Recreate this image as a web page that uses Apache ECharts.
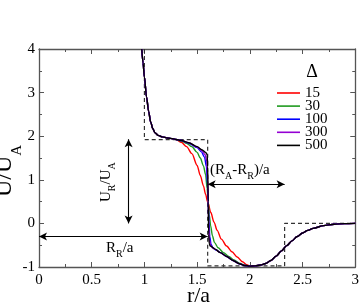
<!DOCTYPE html>
<html><head><meta charset="utf-8">
<script src="https://cdn.jsdelivr.net/npm/echarts@6/dist/echarts.min.js"></script>
<style>html,body{margin:0;padding:0;background:#fff}#c{width:362px;height:303px}</style>
</head><body><div id="c"></div>
<script>
// ---- data ----
const seriesNames = ['15', '30', '100', '300', '500'];
const xTickLabels = ['0', '0.5', '1', '1.5', '2', '2.5', '3'];
const yTickLabels = ['-1', '0', '1', '2', '3', '4'];

// repulsive core, shared by all curves
const repCore = [[0.975,4.0],[0.987,3.68],[1.0,3.36],[1.02,2.9],[1.04,2.57],[1.06,2.32],[1.08,2.17],[1.1,2.08],[1.13,2.02],[1.17,1.985],[1.22,1.96],[1.27,1.94],[1.3,1.925]];
// attractive tail, shared by all curves
const attrTail = [[2.0,-0.98],[2.05,-0.975],[2.1,-0.955],[2.15,-0.92],[2.2,-0.85],[2.25,-0.75],[2.3,-0.63],[2.35,-0.51],[2.4,-0.4],[2.45,-0.3],[2.5,-0.22],[2.55,-0.16],[2.6,-0.115],[2.7,-0.05],[2.8,-0.018],[2.9,-0.005],[3.0,0]];

const mid15 = [[1.35,1.86],[1.4,1.76],[1.45,1.6],[1.5,1.33],[1.53,1.1],[1.56,0.86],[1.58,0.67],[1.6,0.49],[1.63,0.25],[1.66,0.03],[1.69,-0.16],[1.73,-0.36],[1.78,-0.52],[1.83,-0.65],[1.88,-0.77],[1.93,-0.88],[1.97,-0.95]];
const mid30 = [[1.35,1.89],[1.4,1.84],[1.45,1.76],[1.5,1.63],[1.53,1.5],[1.56,1.32],[1.58,1.12],[1.595,0.8],[1.605,0.5],[1.615,0.2],[1.628,-0.05],[1.645,-0.28],[1.665,-0.44],[1.7,-0.56],[1.75,-0.67],[1.8,-0.76],[1.85,-0.84],[1.9,-0.91],[1.95,-0.96]];
const mid100 = [[1.35,1.9],[1.42,1.84],[1.5,1.74],[1.54,1.64],[1.57,1.52],[1.588,1.3],[1.598,0.9],[1.605,0.5],[1.612,0.05],[1.62,-0.3],[1.632,-0.48],[1.65,-0.56],[1.68,-0.61],[1.72,-0.67],[1.78,-0.76],[1.84,-0.85],[1.9,-0.925],[1.95,-0.965]];
const mid300 = [[1.35,1.9],[1.42,1.85],[1.5,1.755],[1.545,1.67],[1.575,1.58],[1.592,1.42],[1.6,1.0],[1.605,0.5],[1.611,-0.05],[1.617,-0.38],[1.628,-0.5],[1.645,-0.56],[1.67,-0.595],[1.72,-0.67],[1.78,-0.76],[1.84,-0.85],[1.9,-0.925],[1.95,-0.965]];
const mid500 = [[1.35,1.9],[1.42,1.85],[1.5,1.76],[1.545,1.69],[1.58,1.63],[1.595,1.58],[1.6,1.3],[1.605,0.5],[1.61,-0.25],[1.615,-0.47],[1.625,-0.52],[1.67,-0.59],[1.72,-0.67],[1.78,-0.76],[1.84,-0.85],[1.9,-0.925],[1.95,-0.965]];

// square-well reference potential (dashed)
const stepPotential = [[1,4],[1,1.92],[1.6,1.92],[1.6,-0.975],[2.33,-0.975],[2.33,0],[3,0]];

// ---- chart ----
const FONT = '"Liberation Serif", "Times New Roman", serif';
const mids = [mid15, mid30, mid100, mid300, mid500];
const colors = ['#ff0000', '#1f9a1f', '#0000ff', '#9400d3', '#000000'];

const ctx = document.createElement('canvas').getContext('2d');
function richText(parts, x, y, rot) {
  let cx = 0; const children = [];
  parts.forEach(([t, s, dy]) => {
    const f = s + 'px ' + FONT;
    ctx.font = f;
    const w = ctx.measureText(t).width;
    children.push({type: 'text', x: cx, y: dy, style: {text: t, font: f, fill: '#000', textAlign: 'left', verticalAlign: 'middle', textVerticalAlign: 'middle'}});
    cx += w;
  });
  return {type: 'group', x: x, y: y, rotation: rot || 0, children: children, silent: true};
}

const axisCommon = {
  min: 0, max: 3, interval: 0.5,
  axisLine: {show: true, onZero: false, lineStyle: {color: '#555', width: 1.3}},
  axisTick: {show: true, inside: true, length: 5, lineStyle: {color: '#555', width: 1}},
  minorTick: {show: true, splitNumber: 2, length: 3, lineStyle: {color: '#555', width: 1}},
  splitLine: {show: false}
};
const yCommon = Object.assign({}, axisCommon, {min: -1, max: 4, interval: 1});

const series = [{
  type: 'line', name: 'step', data: stepPotential, symbol: 'none', silent: true,
  lineStyle: {color: '#333', width: 1.2, type: [4, 3]}, z: 1,
  markLine: {
    silent: true, symbol: ['arrow', 'arrow'], symbolSize: [6, 8],
    label: {show: false},
    lineStyle: {color: '#000', width: 1.1, type: 'solid'},
    data: [
      [{coord: [0.85, 0]}, {coord: [0.85, 1.93]}],
      [{coord: [0, -0.3]}, {coord: [1.6, -0.3]}],
      [{coord: [1.6, 0.9]}, {coord: [2.33, 0.9]}]
    ],
    animation: false
  }
}];
seriesNames.forEach((n, i) => {
  series.push({
    type: 'line', name: n, data: repCore.concat(mids[i], attrTail),
    symbol: 'none', smooth: 0.3, smoothMonotone: 'x',
    lineStyle: {color: colors[i], width: 1.4}, itemStyle: {color: colors[i]}, z: 2 + i
  });
});

const chart = echarts.init(document.getElementById('c'), null, {renderer: 'canvas'});
chart.setOption({
  animation: false,
  backgroundColor: '#fff',
  grid: {left: 39, right: 4, top: 49, bottom: 36},
  xAxis: [
    Object.assign({}, axisCommon, {type: 'value', position: 'bottom',
      axisLabel: {show: true, margin: 6, color: '#000', fontFamily: FONT, fontSize: 15,
        formatter: v => xTickLabels[Math.round(v / 0.5)]}}),
    Object.assign({}, axisCommon, {type: 'value', position: 'top', axisLabel: {show: false}})
  ],
  yAxis: [
    Object.assign({}, yCommon, {type: 'value', position: 'left',
      axisLabel: {show: true, margin: 4, color: '#000', fontFamily: FONT, fontSize: 15,
        formatter: v => yTickLabels[Math.round(v + 1)]}}),
    Object.assign({}, yCommon, {type: 'value', position: 'right', axisLabel: {show: false}})
  ],
  legend: {
    data: seriesNames, orient: 'vertical', left: 277, top: 85.5, padding: 0,
    icon: 'rect', itemWidth: 23, itemHeight: 1.6, itemGap: -1.9,
    textStyle: {fontFamily: FONT, fontSize: 15, color: '#000', lineHeight: 13},
    selectedMode: false
  },
  series: series,
  graphic: [
    {type: 'text', x: 198.5, y: 296, silent: true, style: {text: 'r/a', font: '22px ' + FONT, fill: '#000', textAlign: 'center', verticalAlign: 'middle', textVerticalAlign: 'middle'}},
    richText([['U/U', 24, 0], ['A', 15, 12]], 5, 197, Math.PI / 2),
    {type: 'text', x: 312, y: 72, silent: true, style: {text: 'Δ', font: '18px ' + FONT, fill: '#000', textAlign: 'center', verticalAlign: 'middle', textVerticalAlign: 'middle'}},
    richText([['R', 15, 0], ['R', 10, 6], ['/a', 15, 0]], 106, 248, 0),
    richText([['(R', 15, 0], ['A', 10, 6], ['-R', 15, 0], ['R', 10, 6], [')/a', 15, 0]], 210, 170, 0),
    richText([['U', 15, 0], ['R', 10, 6], ['/U', 15, 0], ['A', 10, 6]], 106, 202, Math.PI / 2)
  ]
});
</script></body></html>
